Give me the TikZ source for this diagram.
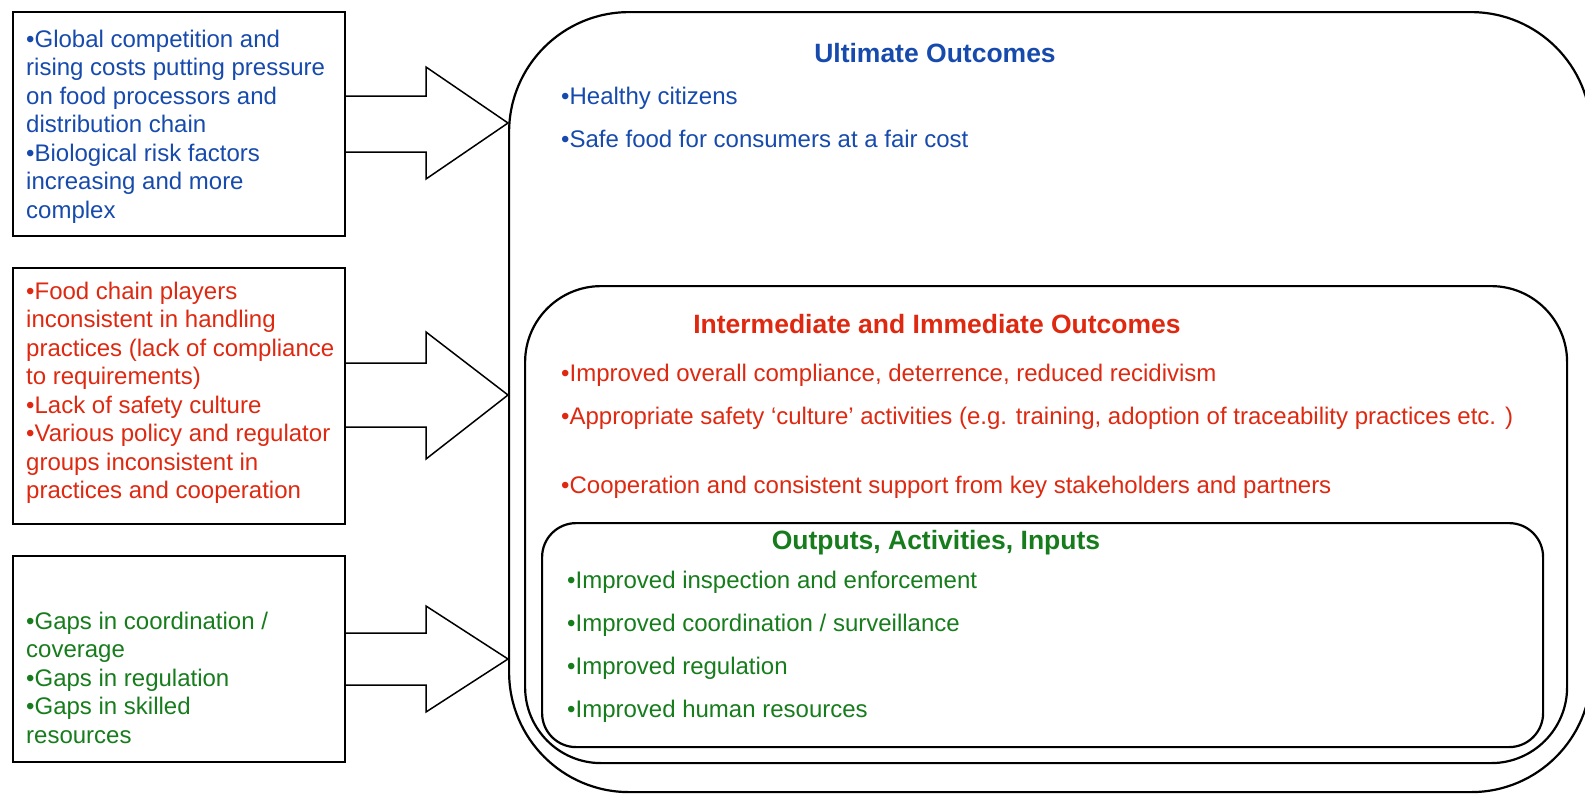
\documentclass[tikz,border=0pt]{standalone}
\usepackage{fontspec}
\setmainfont{Liberation Sans}
\definecolor{ublue}{RGB}{22,74,172}
\definecolor{ired}{RGB}{222,40,16}
\definecolor{ogreen}{RGB}{22,124,28}
\newcommand\myln[1]{\hbox{#1}}
\begin{document}
\begin{tikzpicture}[x=1pt,y=-1pt,
  srcbox/.style={draw, line width=1.5pt, rectangle, inner sep=0pt, anchor=north west, minimum width=332pt},
  blockarrow/.style={draw, line width=1.5pt, line join=miter},
  rbox/.style={draw, line width=2.2pt, rectangle, inner sep=0pt, anchor=north west},
  body/.style={font=\fontsize{24}{28.5}\selectfont, inner sep=0pt, anchor=base west},
  head/.style={font=\fontsize{26.5}{30}\selectfont\bfseries, inner sep=0pt, anchor=base},
]
\useasboundingbox (0,0) rectangle (1585,793);

% source boxes
\node[srcbox, minimum height=224pt] (b1) at (12,11) {};
\node[srcbox, minimum height=256pt] (b2) at (12,267) {};
\node[srcbox, minimum height=206pt] (b3) at (12,555) {};

% nested rounded boxes
\node[rbox, rounded corners=120pt, minimum width=1082pt, minimum height=780pt] (outer) at (508,11) {};
\node[rbox, rounded corners=76pt, minimum width=1042pt, minimum height=477pt] (mid) at (524,285) {};
\node[rbox, rounded corners=34pt, minimum width=1001pt, minimum height=224pt] (inner) at (541,522) {};

% block arrows
\draw[blockarrow] (b1.east |- 0,96) -- (426,96) -- (426,67) -- (outer.west |- 0,123)
  -- (426,179) -- (426,152) -- (b1.east |- 0,152);
\draw[blockarrow] (b2.east |- 0,363) -- (426,363) -- (426,332) -- (outer.west |- 0,395)
  -- (426,459) -- (426,427) -- (b2.east |- 0,427);
\draw[blockarrow] (b3.east |- 0,633) -- (426,633) -- (426,606) -- (outer.west |- 0,659)
  -- (426,712) -- (426,685) -- (b3.east |- 0,685);

% source texts
\node[body, ublue] (t1) at (26,47) {\vtop{\myln{•Global competition and}\myln{rising costs putting pressure}\myln{on food processors and}\myln{distribution chain}\myln{•Biological risk factors}\myln{increasing and more}\myln{complex}}};
\node[body, ired] (t2) at (26,299) {\vtop{\myln{•Food chain players}\myln{inconsistent in handling}\myln{practices (lack of compliance}\myln{to requirements)}\myln{•Lack of safety culture}\myln{•Various policy and regulator}\myln{groups inconsistent in}\myln{practices and cooperation}}};
\node[body, ogreen] (t3) at (26,629) {\vtop{\myln{•Gaps in coordination /}\myln{coverage}\myln{•Gaps in regulation}\myln{•Gaps in skilled}\myln{resources}}};

% ultimate outcomes
\node[head, ublue] (uh) at (935,62) {Ultimate Outcomes};
\node[body, ublue] (u1) at (561,104) {•Healthy citizens};
\node[body, ublue] (u2) at (561,147) {•Safe food for consumers at a fair cost};

% intermediate outcomes
\node[head, ired] (ih) at (937,333) {Intermediate and Immediate Outcomes};
\node[body, ired] (i1) at (561,381) {•Improved overall compliance, deterrence, reduced recidivism};
\node[body, ired] (i2) at (561,424) {•Appropriate safety ‘culture’ activities (e.g. training, adoption of traceability practices etc. )};
\node[body, ired] (i3) at (561,493) {•Cooperation and consistent support from key stakeholders and partners};

% outputs
\node[head, ogreen] (oh) at (936,549) {Outputs, Activities, Inputs};
\node[body, ogreen] (o1) at (567,588) {•Improved inspection and enforcement};
\node[body, ogreen] (o2) at (567,631) {•Improved coordination / surveillance};
\node[body, ogreen] (o3) at (567,674) {•Improved regulation};
\node[body, ogreen] (o4) at (567,717) {•Improved human resources};
\end{tikzpicture}
\end{document}
